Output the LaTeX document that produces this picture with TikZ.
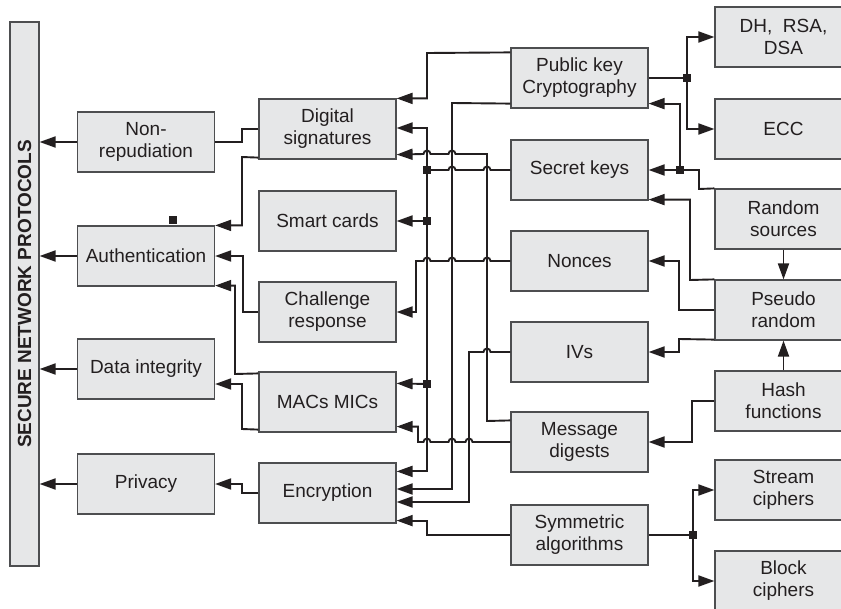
\documentclass[tikz,border=0pt]{standalone}
\usepackage{fontspec}
\setmainfont{Liberation Sans}
\usetikzlibrary{arrows.meta,calc}
\definecolor{ink}{HTML}{231F20}
\definecolor{boxfill}{HTML}{E6E7E8}
\definecolor{boxline}{HTML}{4D4E50}
\begin{document}
\begin{tikzpicture}[x=1pt,y=-1pt,
  box/.style={draw=boxline, line width=1.2pt, fill=boxfill, minimum width=137pt, minimum height=60pt, inner sep=0pt, align=center, text=ink, font=\fontsize{19}{22}\selectfont},
  barbox/.style={draw=boxline, line width=1.2pt, fill=boxfill, minimum width=544pt, minimum height=29pt, inner sep=0pt, rotate=90, text=ink, font=\bfseries\fontsize{19}{22}\selectfont},
  conn/.style={draw=ink, line width=1.9pt},
  arr/.style={conn, -{Triangle[length=16pt,width=11pt]}},
  junc/.style={fill=ink, draw=none, rectangle, minimum size=7.5pt, inner sep=0pt}]
\useasboundingbox (0,0) rectangle (841,608);
\fill[white] (0,0) rectangle (841,608);
% bar
\node[barbox] (snp) at (24.5,294) {SECURE NETWORK PROTOCOLS};
% column 1
\node[box] (nr) at (146,142) {Non-\\repudiation};
\node[box] (au) at (146,256) {Authentication};
\node[box] (di) at (146,369) {Data integrity};
\node[box] (pr) at (146,484) {Privacy};
% column 2
\node[box] (ds) at (327.5,129) {Digital\\signatures};
\node[box] (sc) at (327.5,221) {Smart cards};
\node[box] (cr) at (327.5,312) {Challenge\\response};
\node[box] (mm) at (327.5,402) {MACs MICs};
\node[box] (en) at (327.5,493) {Encryption};
% column 3
\node[box] (pk) at (579.5,78) {Public key\\Cryptography};
\node[box] (sk) at (579.5,170) {Secret keys};
\node[box] (no) at (579.5,261) {Nonces};
\node[box] (iv) at (579.5,352) {IVs};
\node[box] (md) at (579.5,442) {Message\\digests};
\node[box] (sa) at (579.5,535) {Symmetric\\algorithms};
% column 4
\node[box] (dh) at (783.5,37) {DH,\ \ RSA,\\DSA};
\node[box] (ecc) at (783.5,129) {ECC};
\node[box] (rs) at (783.5,219) {Random\\sources};
\node[box] (ps) at (783.5,310) {Pseudo\\random};
\node[box] (hf) at (783.5,401) {Hash\\functions};
\node[box] (st) at (783.5,490) {Stream\\ciphers};
\node[box] (bc) at (783.5,581) {Block\\ciphers};
% into bar
\draw[arr] (nr.west) -- (nr.west -| snp.south);
\draw[arr] (au.west) -- (au.west -| snp.south);
\draw[arr] (di.west) -- (di.west -| snp.south);
\draw[arr] (pr.west) -- (pr.west -| snp.south);
% column 2 -> column 1
\draw[conn] (ds.west) -- (242,129) |- (nr.east);
\draw[arr] ($(ds.south west)+(0,-2)$) -- (242,157) |- (au.north east);
\draw[arr] (cr.west) -- (243,312) |- (au.east);
\draw[arr] ($(mm.north west)+(0,2)$) -- (235,374) |- ($(au.south east)+(0,-1)$);
\draw[arr] ($(mm.south west)+(0,-3)$) -- (242,429) |- ($(di.east)+(0,15)$);
\draw[arr] (en.west) -- (242,493) |- (pr.east);
% column 3 -> column 2
\draw[arr] ($(pk.north west)+(0,5)$) -- (427,53) |- (ds.north east);
\draw[arr] ($(pk.south west)+(0,-5)$) -- (452,103) |- ($(en.east)+(0,-4)$);
\draw[conn] (sk.west) -- (490.5,170) arc[start angle=0,end angle=180,radius=3.5pt]
  -- (455.5,170) arc[start angle=0,end angle=180,radius=3.5pt] -- (427,170);
\draw[arr] (427,170) |- ($(ds.east)+(0,-1)$);
\draw[arr] (427,170) |- ($(en.north east)+(0,9)$);
\draw[arr] (427,221) -- (sc.east);
\draw[arr] (427,384) -- ($(mm.north east)+(0,12)$);
\draw[arr] (no.west) -- (490.5,261) arc[start angle=0,end angle=180,radius=3.5pt]
  -- (455.5,261) arc[start angle=0,end angle=180,radius=3.5pt]
  -- (430.5,261) arc[start angle=0,end angle=180,radius=3.5pt] -- (416,261) |- (cr.east);
\draw[arr] ($(md.north west)+(0,9)$) -- (487,421) -- (487,154)
  -- (455.5,154) arc[start angle=0,end angle=180,radius=3.5pt]
  -- (430.5,154) arc[start angle=0,end angle=180,radius=3.5pt] -- ($(ds.south east)+(0,-5)$);
\draw[arr] (md.west) -- (472.5,442) arc[start angle=0,end angle=180,radius=3.5pt]
  -- (455.5,442) arc[start angle=0,end angle=180,radius=3.5pt]
  -- (430.5,442) arc[start angle=0,end angle=180,radius=3.5pt] -- (418,442) |- ($(mm.south east)+(0,-6)$);
\draw[arr] (iv.west) -- (490.5,352) arc[start angle=0,end angle=180,radius=3.5pt] -- (469,352) |- ($(en.east)+(0,9)$);
\draw[arr] (sa.west) -- (427,535) |- ($(en.south east)+(0,-3)$);
% right side
\draw[conn] (pk.east) -- (687,78);
\draw[arr] (687,78) |- (dh.west);
\draw[arr] (687,78) |- (ecc.west);
\draw[arr] (rs.north west) -- (699,189) |- (sk.east);
\draw[arr] (680,170) |- ($(pk.south east)+(0,-5)$);
\draw[arr] (ps.north west) -- (690,280) |- ($(sk.south east)+(0,-1)$);
\draw[arr] (ps.west) -- (679,310) |- (no.east);
\draw[arr] ($(ps.south west)+(0,-1)$) -- (679,339) |- (iv.east);
\draw[arr] (rs.south) -- (ps.north);
\draw[arr] (hf.north) -- (ps.south);
\draw[arr] (hf.west) -- (692,401) |- (md.east);
\draw[conn] (sa.east) -- (693,535);
\draw[arr] (693,535) |- (st.west);
\draw[arr] (693,535) |- (bc.west);
% junctions
\node[junc] (j1) at (427,170) {};
\node[junc] (j2) at (427,221) {};
\node[junc] (j3) at (427,384) {};
\node[junc] (j4) at (687,78) {};
\node[junc] (j5) at (680,170) {};
\node[junc] (j6) at (693,535) {};
\node[junc] (j7) at (173,220) {};
\end{tikzpicture}
\end{document}
